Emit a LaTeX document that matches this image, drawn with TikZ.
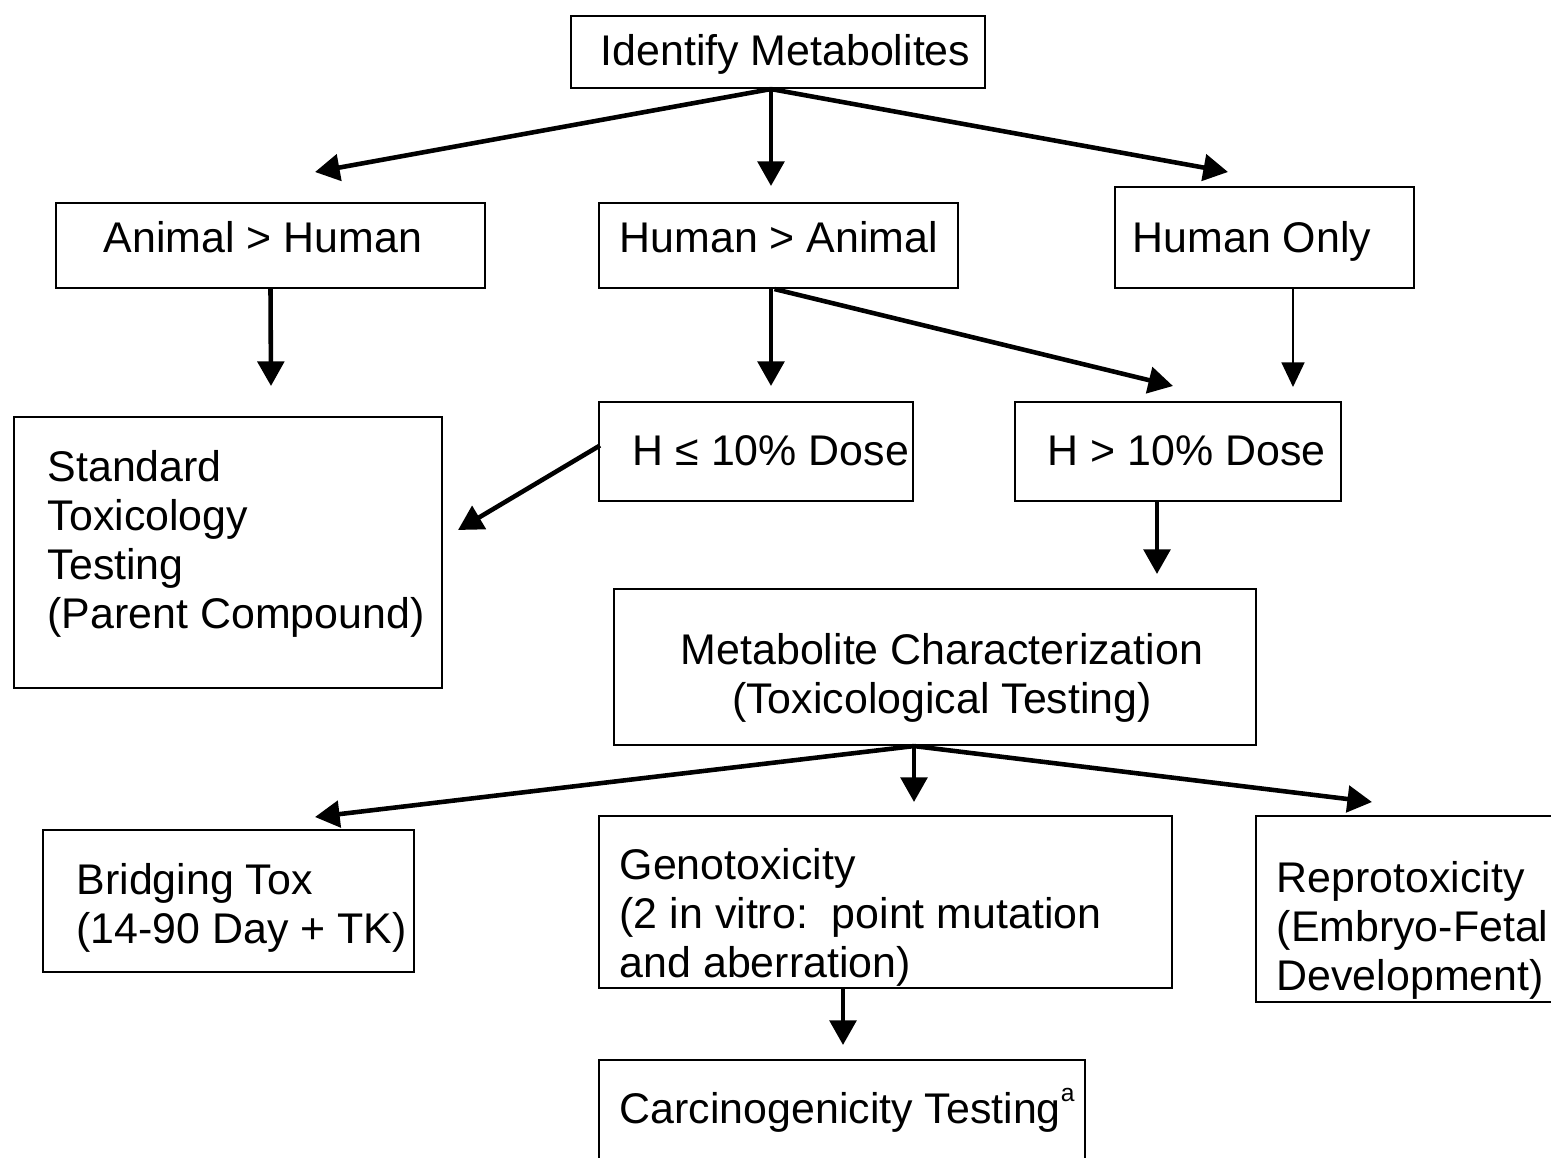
\documentclass[tikz,border=0pt]{standalone}
\usepackage{fontspec}
\setmainfont{Liberation Sans}
\usetikzlibrary{arrows.meta,fit,calc}
\begin{document}
\begin{tikzpicture}[x=0.01cm,y=-0.01cm,
  box/.style={draw,line width=0.6pt,inner sep=0pt},
  txt/.style={inner sep=0pt,anchor=base west,align=left,font={\fontsize{12.2}{13.9}\selectfont}},
  ctxt/.style={inner sep=0pt,anchor=base,align=center,font={\fontsize{12.2}{13.9}\selectfont}},
  arr/.style={line width=1.3pt,-{Triangle[length=7pt,width=7.5pt]}},
  thinarr/.style={line width=0.6pt,-{Triangle[length=7pt,width=6.5pt]}}]
\useasboundingbox (0,0) rectangle (1551,1157);
\clip (0,0) rectangle (1551,1157);
% boxes
\node[box,fit={(571,16) (985,88)}] (im) {};
\node[box,fit={(56,203) (485,288)}] (ah) {};
\node[box,fit={(599,203) (958,288)}] (ha) {};
\node[box,fit={(1115,187) (1414,288)}] (ho) {};
\node[box,fit={(14,417) (442,688)}] (st) {};
\node[box,fit={(599,402) (913,501)}] (hl) {};
\node[box,fit={(1015,402) (1341,501)}] (hg) {};
\node[box,fit={(614,589) (1256,745)}] (mc) {};
\node[box,fit={(43,830) (414,972)}] (bt) {};
\node[box,fit={(599,816) (1172,988)}] (gt) {};
\node[box,fit={(1256,816) (1570,1002)}] (rt) {};
\node[box,fit={(599,1060) (1085,1180)}] (ct) {};
% texts (base anchor = baseline of last line)
\node[txt] (imT) at (600,65) {Identify Metabolites};
\node[txt] (ahT) at (103,252) {Animal > Human};
\node[txt] (haT) at (619,252) {Human > Animal};
\node[txt] (hoT) at (1132,252) {Human Only};
\node[txt] (stT) at (47,628) {Standard\\Toxicology\\Testing\\(Parent Compound)};
\node[txt] (hlT) at (632,465) {H ≤ 10\% Dose};
\node[txt] (hgT) at (1047,465) {H > 10\% Dose};
\node[ctxt] (mcT) at (942,713) {Metabolite Characterization\\(Toxicological Testing)};
\node[txt] (btT) at (76,943) {Bridging Tox\\(14-90 Day + TK)};
\node[txt] (gtT) at (619,977) {Genotoxicity\\(2 in vitro:\ \ point mutation\\and aberration)};
\node[txt] (rtT) at (1276,990) {Reprotoxicity\\(Embryo-Fetal\\Development)};
\node[txt] (ctT) at (619,1123) {Carcinogenicity Testing\raisebox{0.95ex}{\fontsize{7}{7}\selectfont a}};
% free arrow ends
\coordinate (tAH) at (315,172);
\coordinate (tHA) at (771,186);
\coordinate (tHO) at (1228,172);
\coordinate (tST1) at (271,386);
\coordinate (tHL) at (771,386);
\coordinate (tHG1) at (1173,386);
\coordinate (tHG2) at (1293,387);
\coordinate (tST2) at (458,530);
\coordinate (tMC) at (1157,574);
\coordinate (tBT) at (315,817);
\coordinate (tGT) at (914,802);
\coordinate (tRT) at (1372,802);
\coordinate (tCT) at (843,1045);
% connectors
\draw[arr] ($(im.south)+(-7,0)$) -- (tAH);
\draw[arr] ($(im.south)+(-7,0)$) -- (tHA);
\draw[arr] ($(im.south)+(-7,0)$) -- (tHO);
\draw[arr] (ah.south) -- (tST1);
\draw[arr] ($(ha.south)+(-7.5,0)$) -- (tHL);
\draw[arr] ($(ha.south)+(-4,0)$) -- (tHG1);
\draw[thinarr] ($(ho.south)+(28.5,0)$) -- (tHG2);
\draw[arr] ($(hl.west)+(2,-6)$) -- (tST2);
\draw[arr] ($(hg.south)+(-21,0)$) -- (tMC);
\draw[arr] ($(mc.south)+(-21,0)$) -- (tBT);
\draw[arr] ($(mc.south)+(-21,0)$) -- (tGT);
\draw[arr] ($(mc.south)+(-21,0)$) -- (tRT);
\draw[arr] ($(gt.south)+(-42.5,0)$) -- (tCT);
\end{tikzpicture}
\end{document}
